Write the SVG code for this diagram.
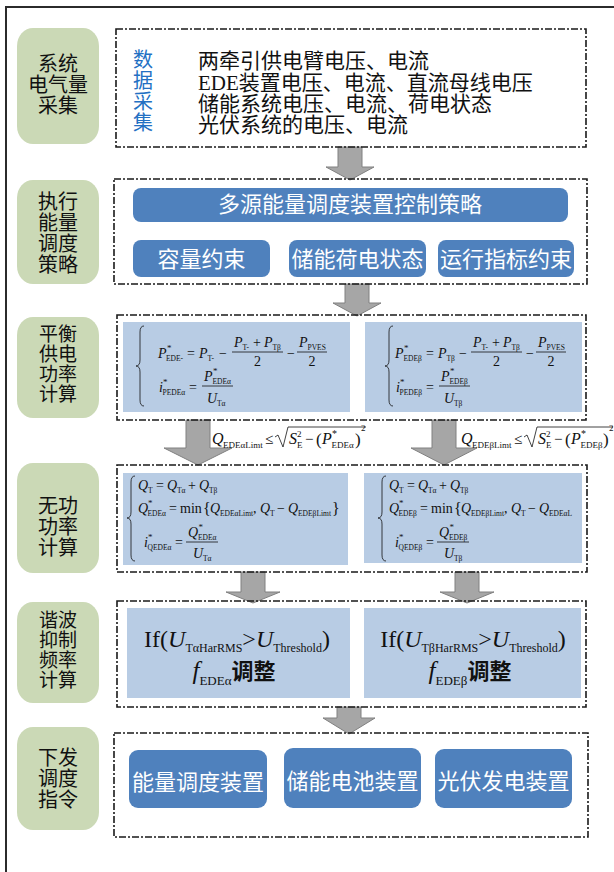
<svg xmlns="http://www.w3.org/2000/svg" width="614" height="872" viewBox="0 0 614 872">
<defs>
<style>
.frame{fill:none;stroke:#2b2b2b;stroke-width:2}
.dash{fill:none;stroke:#1a1a1a;stroke-width:1.6;stroke-dasharray:7 2 2 2}
.green{fill:#cbd9b6}
.gt{font-family:'Noto Sans CJK SC',sans-serif;font-size:20px;fill:#111;text-anchor:middle}
.gt4{font-size:19px}
.bb{fill:#4f81bd}
.bt{font-family:'Noto Sans CJK SC',sans-serif;font-size:22px;fill:#fff;text-anchor:middle}
.lb{fill:#b8cce4}
.arr{fill:#a6a6a6;stroke:#808080;stroke-width:1}
.t1{font-family:'Liberation Serif','Noto Sans CJK SC',serif;font-size:21px;fill:#111}
.blue{font-family:'Noto Sans CJK SC',sans-serif;font-size:20px;fill:#2370c3;text-anchor:middle}
.m{font-family:'Liberation Serif','DejaVu Serif',serif;font-size:14px;fill:#111}
.q{font-family:'Liberation Serif','DejaVu Serif',serif;font-size:16px;fill:#111}
.big{font-family:'Liberation Serif','DejaVu Serif',serif;font-size:24px;fill:#111;text-anchor:middle}
.i{font-style:italic}
.sb{font-size:7.5px}
.sp{font-size:9px}
.bar{stroke:#111;stroke-width:0.8;fill:none}
.cjkb{font-family:'Noto Sans CJK SC',sans-serif;font-weight:bold;font-size:22px;font-style:normal}
</style>
</defs>
<rect x="0" y="0" width="614" height="872" fill="#fff"/>
<path class="frame" d="M6 872 L6 7 L614 7"/>

<g id="connectors">
<polygon class="arr" points="338,147 362,147 362,167 374,167 350,180 326,167 338,167"/>
<polygon class="arr" points="345,284 369,284 369,303 381,303 357,316 333,303 345,303"/>
<polygon class="arr" points="186,420 210,420 210,448 232,448 198,465 164,448 186,448"/>
<polygon class="arr" points="432,420 456,420 456,448 477,448 444,465 411,448 432,448"/>
<polygon class="arr" points="241,572 265,572 265,592 280,592 253,603 226,592 241,592"/>
<polygon class="arr" points="455,572 479,572 479,592 494,592 467,603 440,592 455,592"/>
<polygon class="arr" points="337,707 361,707 361,718 375,718 349,734 323,718 337,718"/>
</g>

<!-- Section 1 -->
<g id="label-1">
<rect class="green" x="17" y="28" width="82" height="116" rx="16" ry="18"/>
<text class="gt"><tspan x="58" y="71">系统</tspan><tspan x="58" y="92">电气量</tspan><tspan x="58" y="113">采集</tspan></text>
</g>
<g id="data-collection">
<rect class="dash" x="116" y="29" width="470" height="118"/>
<text class="blue"><tspan x="143" y="67">数</tspan><tspan x="143" y="88">据</tspan><tspan x="143" y="109">采</tspan><tspan x="143" y="130">集</tspan></text>
<text class="t1"><tspan x="198" y="68">两牵引供电臂电压、电流</tspan><tspan x="198" y="90">EDE装置电压、电流、直流母线电压</tspan><tspan x="198" y="111">储能系统电压、电流、荷电状态</tspan><tspan x="198" y="132">光伏系统的电压、电流</tspan></text>
</g>

<!-- Section 2 -->
<g id="label-2">
<rect class="green" x="17" y="180" width="82" height="104" rx="16" ry="18"/>
<text class="gt"><tspan x="58" y="209">执行</tspan><tspan x="58" y="230">能量</tspan><tspan x="58" y="251">调度</tspan><tspan x="58" y="272">策略</tspan></text>
</g>
<g id="strategy">
<rect class="dash" x="114" y="179" width="473" height="105"/>
<rect class="bb" x="133" y="188" width="435" height="34" rx="8"/>
<text class="bt" x="350" y="212">多源能量调度装置控制策略</text>
</g>
<g id="capacity">
<rect class="bb" x="133" y="240" width="137" height="37" rx="8"/>
<text class="bt" x="201.5" y="267">容量约束</text>
</g>
<g id="soc">
<rect class="bb" x="289" y="240" width="137" height="37" rx="8"/>
<text class="bt" x="357.5" y="267">储能荷电状态</text>
</g>
<g id="index">
<rect class="bb" x="438" y="240" width="136" height="37" rx="8"/>
<text class="bt" x="506" y="267">运行指标约束</text>
</g>

<!-- Section 3 -->
<g id="label-3">
<rect class="green" x="17" y="317" width="82" height="101" rx="16" ry="18"/>
<text class="gt gt4"><tspan x="58" y="341">平衡</tspan><tspan x="58" y="361">供电</tspan><tspan x="58" y="381">功率</tspan><tspan x="58" y="401">计算</tspan></text>
</g>
<g id="balance">
<rect class="dash" x="117" y="315" width="469" height="105"/>
</g>
<g id="balance-alpha">
<rect class="lb" x="123" y="322" width="227" height="90"/>
<path class="bar" d="M144 326 Q140 326 140 332 L140 360 Q140 366 136 366 Q140 366 140 372 L140 400 Q140 406 144 406"/>
<text class="m">
<tspan class="i" x="158" y="358">P</tspan><tspan class="sp" x="167" y="351">*</tspan><tspan class="sb" x="166" y="361">EDE-</tspan>
<tspan x="187" y="358">=</tspan>
<tspan class="i" x="199" y="358">P</tspan><tspan class="sb" x="207.5" y="361">T-</tspan>
<tspan x="219" y="358">−</tspan>
<tspan class="i" x="234" y="347">P</tspan><tspan class="sb" x="242.5" y="350">T-</tspan><tspan x="253" y="347">+</tspan><tspan class="i" x="264" y="347">P</tspan><tspan class="sb" x="272.5" y="350">Tβ</tspan>
<tspan x="254" y="366">2</tspan>
<tspan x="287" y="358">−</tspan>
<tspan class="i" x="299" y="347">P</tspan><tspan class="sb" x="307.5" y="350">PVES</tspan>
<tspan x="308.5" y="366">2</tspan>
<tspan class="i" x="159" y="392">i</tspan><tspan class="sp" x="163" y="385">*</tspan><tspan class="sb" x="162.5" y="395">PEDEα</tspan>
<tspan x="189" y="392">=</tspan>
<tspan class="i" x="204" y="381">P</tspan><tspan class="sp" x="213" y="374">*</tspan><tspan class="sb" x="212.5" y="384">EDEα</tspan>
<tspan class="i" x="207" y="403">U</tspan><tspan class="sb" x="217" y="406">Tα</tspan>
</text>
<path class="bar" d="M232 352 H283 M297 352 H327 M202 386 H233"/>
</g>
<g id="balance-beta">
<rect class="lb" x="365" y="322" width="217" height="90"/>
<path class="bar" d="M393 326 Q389 326 389 332 L389 360 Q389 366 385 366 Q389 366 389 372 L389 400 Q389 406 393 406"/>
<text class="m">
<tspan class="i" x="395" y="358">P</tspan><tspan class="sp" x="404" y="351">*</tspan><tspan class="sb" x="403.5" y="361">EDEβ</tspan>
<tspan x="426" y="358">=</tspan>
<tspan class="i" x="438" y="358">P</tspan><tspan class="sb" x="446.5" y="361">Tβ</tspan>
<tspan x="459" y="358">−</tspan>
<tspan class="i" x="473" y="347">P</tspan><tspan class="sb" x="481.5" y="350">T-</tspan><tspan x="492" y="347">+</tspan><tspan class="i" x="503" y="347">P</tspan><tspan class="sb" x="511.5" y="350">Tβ</tspan>
<tspan x="493" y="366">2</tspan>
<tspan x="526" y="358">−</tspan>
<tspan class="i" x="538" y="347">P</tspan><tspan class="sb" x="546.5" y="350">PVES</tspan>
<tspan x="547.5" y="366">2</tspan>
<tspan class="i" x="396" y="392">i</tspan><tspan class="sp" x="400" y="385">*</tspan><tspan class="sb" x="399.5" y="395">PEDEβ</tspan>
<tspan x="426" y="392">=</tspan>
<tspan class="i" x="441" y="381">P</tspan><tspan class="sp" x="450" y="374">*</tspan><tspan class="sb" x="449.5" y="384">EDEβ</tspan>
<tspan class="i" x="444" y="403">U</tspan><tspan class="sb" x="454" y="406">Tβ</tspan>
</text>
<path class="bar" d="M471 352 H522 M536 352 H566 M439 386 H470"/>
</g>

<!-- limits -->
<g id="limit-alpha">
<text class="q">
<tspan class="i" x="212" y="444">Q</tspan><tspan class="sp" x="223" y="448">EDEαLimt</tspan>
<tspan x="265" y="444" font-size="15">≤</tspan>
<tspan class="i" x="289" y="444">S</tspan><tspan class="sp" x="297" y="437">2</tspan><tspan class="sp" x="297" y="448">E</tspan>
<tspan x="305" y="444" font-size="15">−</tspan>
<tspan x="316" y="445" font-size="17">(</tspan>
<tspan class="i" x="322" y="444">P</tspan><tspan x="332" y="437" font-size="10">*</tspan><tspan class="sp" x="331.5" y="448">EDEα</tspan>
<tspan x="355" y="445" font-size="17">)</tspan><tspan class="sp" x="361" y="431">2</tspan>
</text>
<path class="bar" d="M275 437 L278 435 L283 447 L288 427 L366 427"/>
</g>
<g id="limit-beta">
<text class="q">
<tspan class="i" x="461" y="444">Q</tspan><tspan class="sp" x="472" y="448">EDEβLimt</tspan>
<tspan x="514" y="444" font-size="15">≤</tspan>
<tspan class="i" x="538" y="444">S</tspan><tspan class="sp" x="546" y="437">2</tspan><tspan class="sp" x="546" y="448">E</tspan>
<tspan x="554" y="444" font-size="15">−</tspan>
<tspan x="565" y="445" font-size="17">(</tspan>
<tspan class="i" x="571" y="444">P</tspan><tspan x="581" y="437" font-size="10">*</tspan><tspan class="sp" x="580.5" y="448">EDEβ</tspan>
<tspan x="603" y="445" font-size="17">)</tspan><tspan class="sp" x="609" y="431">2</tspan>
</text>
<path class="bar" d="M524 437 L527 435 L532 447 L537 427 L613 427"/>
</g>

<!-- Section 4 -->
<g id="label-4">
<rect class="green" x="17" y="463" width="82" height="110" rx="16" ry="18"/>
<text class="gt"><tspan x="58" y="513">无功</tspan><tspan x="58" y="534">功率</tspan><tspan x="58" y="555">计算</tspan></text>
</g>
<g id="reactive">
<rect class="dash" x="117" y="465" width="470" height="107"/>
</g>
<g id="reactive-alpha">
<rect class="lb" x="123" y="473" width="225" height="92"/>
<path class="bar" d="M135 476 Q131 476 131 482 L131 512 Q131 518 127 518 Q131 518 131 524 L131 555 Q131 561 135 561"/>
<text class="m">
<tspan class="i" x="138" y="490">Q</tspan><tspan class="sb" x="148" y="493">T</tspan>
<tspan x="156" y="490">=</tspan>
<tspan class="i" x="167" y="490">Q</tspan><tspan class="sb" x="177" y="493">Tα</tspan>
<tspan x="188" y="490">+</tspan>
<tspan class="i" x="199" y="490">Q</tspan><tspan class="sb" x="209" y="493">Tβ</tspan>
<tspan class="i" x="138" y="513">Q</tspan><tspan class="sp" x="148" y="506">*</tspan><tspan class="sb" x="147.5" y="516">EDEα</tspan>
<tspan x="169" y="513">=</tspan>
<tspan x="180" y="513">min</tspan>
<tspan x="203" y="514" font-size="16">{</tspan>
<tspan class="i" x="210" y="513">Q</tspan><tspan class="sb" x="220" y="516">EDEαLimt</tspan><tspan x="253" y="513">,</tspan>
<tspan class="i" x="260" y="513">Q</tspan><tspan class="sb" x="270" y="516">T</tspan>
<tspan x="277" y="513">−</tspan>
<tspan class="i" x="288" y="513">Q</tspan><tspan class="sb" x="298" y="516">EDEβLimt</tspan>
<tspan x="332" y="514" font-size="16">}</tspan>
<tspan class="i" x="144" y="547">i</tspan><tspan class="sp" x="148" y="540">*</tspan><tspan class="sb" x="147.5" y="550">QEDEα</tspan>
<tspan x="175" y="547">=</tspan>
<tspan class="i" x="188" y="537">Q</tspan><tspan class="sp" x="198.5" y="530">*</tspan><tspan class="sb" x="198" y="540">EDEα</tspan>
<tspan class="i" x="193" y="558">U</tspan><tspan class="sb" x="203" y="561">Tα</tspan>
</text>
<path class="bar" d="M186 542 H218"/>
</g>
<g id="reactive-beta">
<rect class="lb" x="364" y="473" width="218" height="90"/>
<path class="bar" d="M386 476 Q382 476 382 482 L382 512 Q382 518 378 518 Q382 518 382 524 L382 555 Q382 561 386 561"/>
<text class="m">
<tspan class="i" x="389" y="490">Q</tspan><tspan class="sb" x="399" y="493">T</tspan>
<tspan x="407" y="490">=</tspan>
<tspan class="i" x="418" y="490">Q</tspan><tspan class="sb" x="428" y="493">Tα</tspan>
<tspan x="439" y="490">+</tspan>
<tspan class="i" x="450" y="490">Q</tspan><tspan class="sb" x="460" y="493">Tβ</tspan>
<tspan class="i" x="389" y="513">Q</tspan><tspan class="sp" x="399" y="506">*</tspan><tspan class="sb" x="398.5" y="516">EDEβ</tspan>
<tspan x="420" y="513">=</tspan>
<tspan x="431" y="513">min</tspan>
<tspan x="454" y="514" font-size="16">{</tspan>
<tspan class="i" x="461" y="513">Q</tspan><tspan class="sb" x="471" y="516">EDEβLimt</tspan><tspan x="504" y="513">,</tspan>
<tspan class="i" x="511" y="513">Q</tspan><tspan class="sb" x="521" y="516">T</tspan>
<tspan x="528" y="513">−</tspan>
<tspan class="i" x="539" y="513">Q</tspan><tspan class="sb" x="549" y="516">EDEαL</tspan>
<tspan class="i" x="395" y="547">i</tspan><tspan class="sp" x="399" y="540">*</tspan><tspan class="sb" x="398.5" y="550">QEDEβ</tspan>
<tspan x="426" y="547">=</tspan>
<tspan class="i" x="439" y="537">Q</tspan><tspan class="sp" x="449.5" y="530">*</tspan><tspan class="sb" x="449" y="540">EDEβ</tspan>
<tspan class="i" x="444" y="558">U</tspan><tspan class="sb" x="454" y="561">Tβ</tspan>
</text>
<path class="bar" d="M437 542 H469"/>
</g>

<!-- Section 5 -->
<g id="label-5">
<rect class="green" x="17" y="602" width="82" height="101" rx="16" ry="18"/>
<text class="gt gt4"><tspan x="58" y="627">谐波</tspan><tspan x="58" y="647">抑制</tspan><tspan x="58" y="667">频率</tspan><tspan x="58" y="687">计算</tspan></text>
</g>
<g id="harmonic">
<rect class="dash" x="117" y="601" width="469" height="106"/>
</g>
<g id="harmonic-alpha">
<rect class="lb" x="127" y="608" width="223" height="90"/>
<text class="big" x="237" y="647">If(<tspan class="i">U</tspan><tspan dy="5" font-size="12">TαHarRMS</tspan><tspan dy="-5">&gt;</tspan><tspan class="i">U</tspan><tspan dy="5" font-size="12">Threshold</tspan><tspan dy="-5">)</tspan></text>
<text class="big" x="234" y="679"><tspan class="i" font-size="25">f</tspan><tspan dy="6" font-size="13">EDEα</tspan><tspan class="cjkb" dy="-6">调整</tspan></text>
</g>
<g id="harmonic-beta">
<rect class="lb" x="364" y="608" width="217" height="90"/>
<text class="big" x="473" y="647">If(<tspan class="i">U</tspan><tspan dy="5" font-size="12">TβHarRMS</tspan><tspan dy="-5">&gt;</tspan><tspan class="i">U</tspan><tspan dy="5" font-size="12">Threshold</tspan><tspan dy="-5">)</tspan></text>
<text class="big" x="470" y="679"><tspan class="i" font-size="25">f</tspan><tspan dy="6" font-size="13">EDEβ</tspan><tspan class="cjkb" dy="-6">调整</tspan></text>
</g>

<!-- Section 6 -->
<g id="label-6">
<rect class="green" x="17" y="727" width="82" height="103" rx="16" ry="18"/>
<text class="gt"><tspan x="58" y="765">下发</tspan><tspan x="58" y="786">调度</tspan><tspan x="58" y="807">指令</tspan></text>
</g>
<g id="dispatch">
<rect class="dash" x="114" y="733" width="474" height="104"/>
</g>
<g id="energy-device">
<rect class="bb" x="129" y="750" width="138" height="58" rx="9"/>
<text class="bt" x="198" y="790">能量调度装置</text>
</g>
<g id="battery-device">
<rect class="bb" x="284" y="748" width="137" height="60" rx="9"/>
<text class="bt" x="352.5" y="789">储能电池装置</text>
</g>
<g id="pv-device">
<rect class="bb" x="435" y="749" width="137" height="59" rx="9"/>
<text class="bt" x="503.5" y="789">光伏发电装置</text>
</g>
</svg>
